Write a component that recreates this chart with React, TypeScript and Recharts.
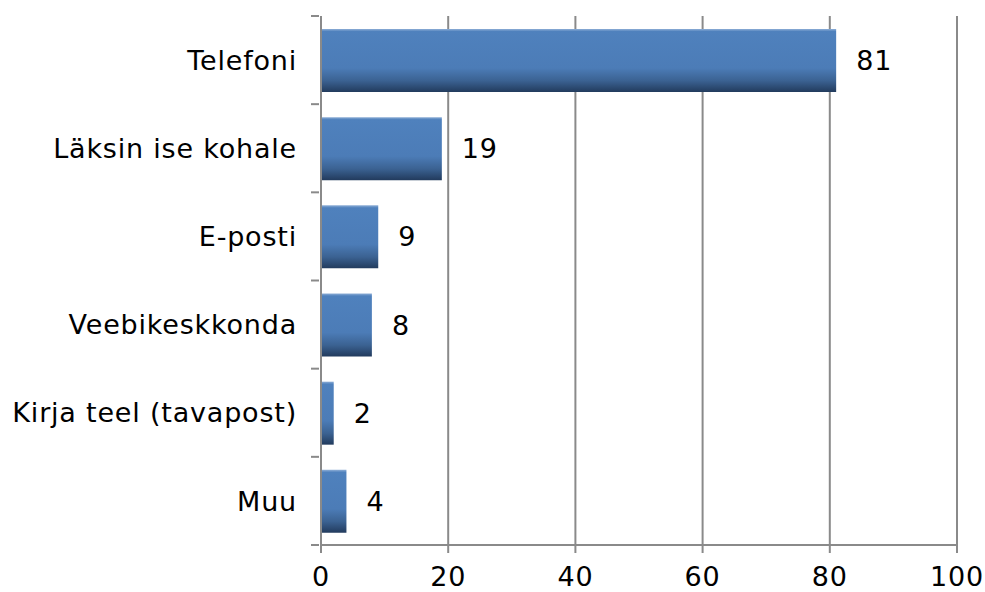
import React from "react";
import { BarChart, Bar, XAxis, YAxis, CartesianGrid, LabelList } from "recharts";

const categories = ["Telefoni", "Läksin ise kohale", "E-posti", "Veebikeskkonda", "Kirja teel (tavapost)", "Muu"];
const values = [81, 19, 9, 8, 2, 4];
const xTicks = [0, 20, 40, 60, 80, 100];

const data = categories.map((name, i) => ({ name, value: values[i] }));

const FONT = "'DejaVu Sans', Verdana, sans-serif";
const AXIS = "#8a8a8a";

const YTick = (props: any) => {
  const { x, y, payload, index } = props;
  const off = payload.offset || 0;
  const axisX = x + 8;
  return (
    <g>
      <line x1={axisX - 8} x2={axisX} y1={y - off} y2={y - off} stroke={AXIS} strokeWidth={2} />
      {index === categories.length - 1 && (
        <line x1={axisX - 8} x2={axisX} y1={y + off} y2={y + off} stroke={AXIS} strokeWidth={2} />
      )}
      <text x={x - 14} y={y} dy="0.36em" textAnchor="end" fontSize={27} fontFamily={FONT} fill="#000" letterSpacing={0.8}>
        {payload.value}
      </text>
    </g>
  );
};

export default function App() {
  return (
    <div style={{ position: "absolute", left: 0, top: 0, background: "#fff" }}>
      <BarChart
        width={985}
        height={592}
        data={data}
        layout="vertical"
        margin={{ top: 16, right: 28, bottom: 0, left: 0 }}
        barSize={63}
      >
        <defs>
          <linearGradient id="barGrad" x1="0" y1="0" x2="0" y2="1">
            <stop offset="0" stopColor="#8eaed6" />
            <stop offset="0.04" stopColor="#4f81bd" />
            <stop offset="0.62" stopColor="#4c7cb7" />
            <stop offset="0.82" stopColor="#3b6292" />
            <stop offset="1" stopColor="#223b5d" />
          </linearGradient>
        </defs>
        <CartesianGrid horizontal={false} vertical={true} stroke={AXIS} strokeWidth={2} />
        <XAxis
          type="number"
          domain={[0, 100]}
          ticks={xTicks}
          height={47}
          axisLine={{ stroke: AXIS, strokeWidth: 2 }}
          tickLine={{ stroke: AXIS, strokeWidth: 2 }}
          tickSize={8}
          tickMargin={14}
          tick={{ fontSize: 27, fontFamily: FONT, fill: "#000", letterSpacing: 0.8 }}
          interval={0}
        />
        <YAxis
          type="category"
          dataKey="name"
          width={321}
          axisLine={{ stroke: AXIS, strokeWidth: 2 }}
          tickLine={false}
          tickSize={8}
          tick={<YTick />}
          interval={0}
        />
        <Bar dataKey="value" fill="url(#barGrad)" isAnimationActive={false}>
          <LabelList
            dataKey="value"
            position="right"
            offset={20}
            style={{ fontSize: 27, fontFamily: FONT, fill: "#000", letterSpacing: 0.8 }}
          />
        </Bar>
      </BarChart>
    </div>
  );
}
